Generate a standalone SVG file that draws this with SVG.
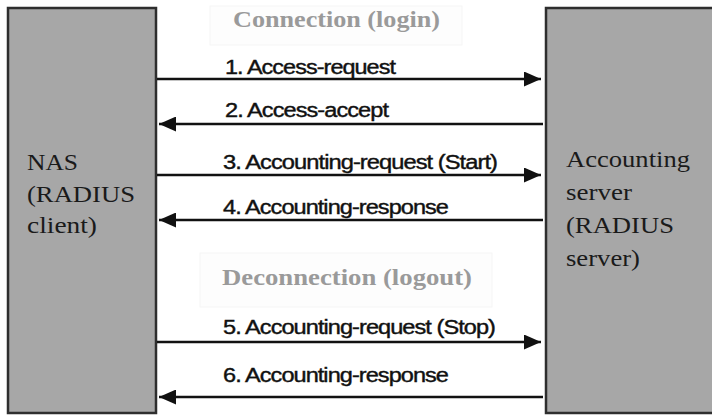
<svg xmlns="http://www.w3.org/2000/svg" width="712" height="416" viewBox="0 0 712 416">
<style>
.box{fill:#a7a7a7;stroke:#2e2e2e;stroke-width:2.5}
.nt{font-family:"Liberation Serif","Times New Roman",serif;font-size:24px;fill:#1a1a1a}
.lbl{font-family:"Liberation Sans",Arial,sans-serif;font-size:20px;fill:#111;stroke:#111;stroke-width:0.4;letter-spacing:-0.8px}
.hd{font-family:"Liberation Serif","Times New Roman",serif;font-size:24px;font-weight:bold;fill:#9a9a9a}
.hbg{fill:#fdfdfd;stroke:#f5f5f5;stroke-width:1}
.cn{stroke:#111;stroke-width:2.5;fill:none}
</style>
<defs>
<marker id="ah" viewBox="0 0 17 15" refX="17" refY="7.5" markerWidth="17" markerHeight="15" markerUnits="userSpaceOnUse" orient="auto">
<path d="M0,0 L17,7.5 L0,15 Z" fill="#111"/>
</marker>
</defs>
<rect width="712" height="416" fill="#fff"/>
<g id="nas">
<rect class="box" x="8" y="8" width="148" height="405"/>
<text class="nt" x="27" y="170" textLength="51" lengthAdjust="spacingAndGlyphs">NAS</text>
<text class="nt" x="27" y="202" textLength="108" lengthAdjust="spacingAndGlyphs">(RADIUS</text>
<text class="nt" x="27" y="233" textLength="70" lengthAdjust="spacingAndGlyphs">client)</text>
</g>
<g id="server">
<rect class="box" x="546" y="8" width="170" height="405"/>
<text class="nt" x="566" y="167" textLength="124" lengthAdjust="spacingAndGlyphs">Accounting</text>
<text class="nt" x="566" y="200" textLength="66" lengthAdjust="spacingAndGlyphs">server</text>
<text class="nt" x="566" y="233" textLength="108" lengthAdjust="spacingAndGlyphs">(RADIUS</text>
<text class="nt" x="566" y="266" textLength="74" lengthAdjust="spacingAndGlyphs">server)</text>
</g>
<g id="login-header">
<rect class="hbg" x="210" y="6" width="252" height="39"/>
<text class="hd" x="233" y="27" textLength="207" lengthAdjust="spacingAndGlyphs">Connection (login)</text>
</g>
<g id="logout-header">
<rect class="hbg" x="200" y="253" width="292" height="54"/>
<text class="hd" x="222" y="285" textLength="250" lengthAdjust="spacingAndGlyphs">Deconnection (logout)</text>
</g>
<g id="connectors">
<line class="cn" x1="157" y1="79" x2="541" y2="79" marker-end="url(#ah)"/>
<line class="cn" x1="543" y1="124" x2="159" y2="124" marker-end="url(#ah)"/>
<line class="cn" x1="157" y1="175" x2="541" y2="175" marker-end="url(#ah)"/>
<line class="cn" x1="543" y1="220" x2="159" y2="220" marker-end="url(#ah)"/>
<line class="cn" x1="157" y1="342" x2="541" y2="342" marker-end="url(#ah)"/>
<line class="cn" x1="543" y1="397" x2="159" y2="397" marker-end="url(#ah)"/>
</g>
<g id="labels">
<text class="lbl" x="225" y="74" textLength="170" lengthAdjust="spacingAndGlyphs">1. Access-request</text>
<text class="lbl" x="225" y="117" textLength="163" lengthAdjust="spacingAndGlyphs">2. Access-accept</text>
<text class="lbl" x="223" y="169" textLength="274" lengthAdjust="spacingAndGlyphs">3. Accounting-request (Start)</text>
<text class="lbl" x="223" y="214" textLength="225" lengthAdjust="spacingAndGlyphs">4. Accounting-response</text>
<text class="lbl" x="223" y="334" textLength="272" lengthAdjust="spacingAndGlyphs">5. Accounting-request (Stop)</text>
<text class="lbl" x="223" y="382" textLength="225" lengthAdjust="spacingAndGlyphs">6. Accounting-response</text>
</g>
</svg>
